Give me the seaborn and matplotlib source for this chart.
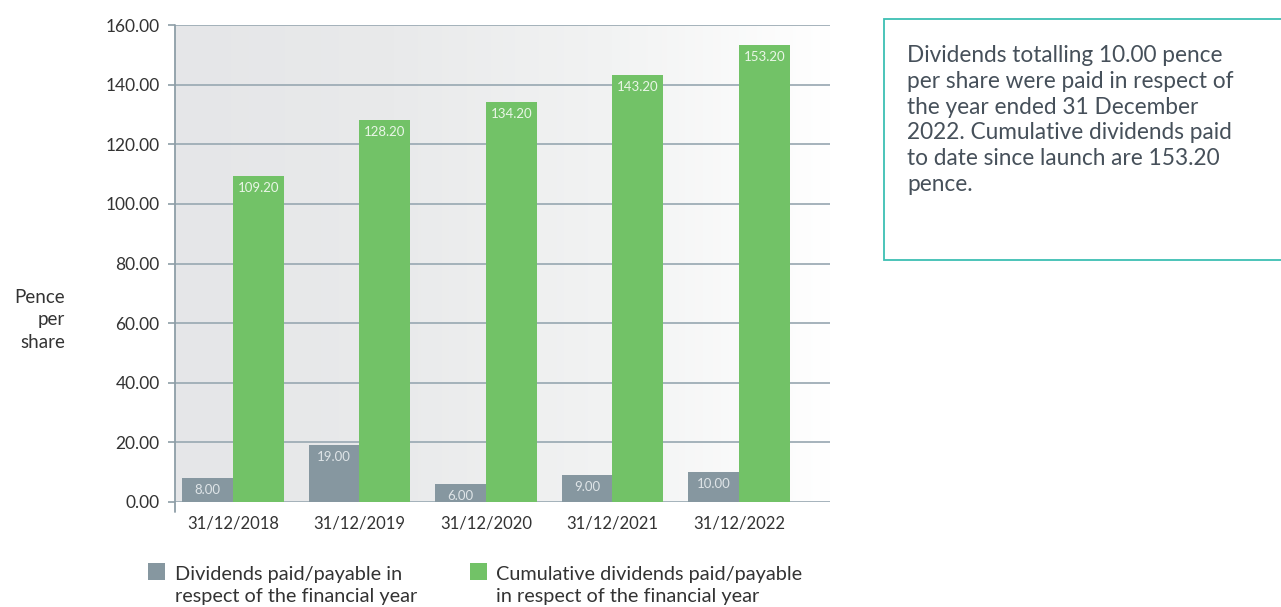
import numpy as np
import pandas as pd
import matplotlib
matplotlib.use("Agg")
import matplotlib.pyplot as plt
from matplotlib.patches import Rectangle
from matplotlib.colors import LinearSegmentedColormap
import seaborn as sns

# ---- data ----
categories = ["31/12/2018", "31/12/2019", "31/12/2020", "31/12/2021", "31/12/2022"]
annual_dividends = [8.00, 19.00, 6.00, 9.00, 10.00]
cumulative_dividends = [109.20, 128.20, 134.20, 143.20, 153.20]
series_names = ["Dividends paid/payable in\nrespect of the financial year",
                "Cumulative dividends paid/payable\nin respect of the financial year"]
y_ticks = [0, 20, 40, 60, 80, 100, 120, 140, 160]
y_label = "Pence\nper\nshare"
note_text = ("Dividends totalling 10.00 pence\nper share were paid in respect of\n"
             "the year ended 31 December\n2022. Cumulative dividends paid\n"
             "to date since launch are 153.20\npence.")

colors = {series_names[0]: "#8697a0", series_names[1]: "#72c267"}

df = pd.DataFrame({
    "date": categories * 2,
    "value": annual_dividends + cumulative_dividends,
    "series": [series_names[0]] * len(categories) + [series_names[1]] * len(categories),
})

sns.set_style("white")
plt.rcParams["font.family"] = ["Lato", "DejaVu Sans"]

fig = plt.figure(figsize=(12.81, 6.07), dpi=100)
ax = fig.add_axes([175 / 1281, 1 - 502 / 607, (830 - 175) / 1281, (502 - 25) / 607])

# gradient background
grad = np.linspace(0, 1, 256).reshape(1, -1)
cmap = LinearSegmentedColormap.from_list("bg", ["#e5e6e8", "#e9eaeb", "#f2f3f3", "#ffffff"])
ax.imshow(grad, aspect="auto", cmap=cmap, extent=[0, 1, 0, 1], transform=ax.transAxes, zorder=0)

sns.barplot(data=df, x="date", y="value", hue="series", palette=colors,
            width=0.8, gap=0, saturation=1, ax=ax, zorder=3, legend=False, linewidth=0)

ax.set_xlim(-0.458, 4.72)
ax.set_ylim(0, 160)
ax.set_yticks(y_ticks)
ax.set_yticklabels([f"{v:.2f}" for v in y_ticks])
ax.set_xlabel("")
ax.set_ylabel("")
ax.grid(axis="y", color="#9eadb6", linewidth=1.3, zorder=1)
ax.grid(axis="x", visible=False)
ax.set_axisbelow(True)
for s in ["top", "right", "bottom", "left"]:
    ax.spines[s].set_visible(False)
ax.plot([0, 0], [-0.02, 1], transform=ax.transAxes, color="#8e9ea7", lw=1.3, clip_on=False, zorder=4)
ax.tick_params(axis="y", length=5, width=1.2, color="#8e9ea7", pad=6, labelsize=12.5, labelcolor="#333333", left=True)
ax.tick_params(axis="x", length=0, pad=10, labelsize=12, labelcolor="#333333")

# value labels
all_vals = [annual_dividends, cumulative_dividends]
label_cols = ["#dfe5e8", "#eaf6e7"]
for cont, vals, lc in zip(ax.containers, all_vals, label_cols):
    for p, v in zip(cont.patches, vals):
        ax.annotate(f"{v:.2f}", (p.get_x() + p.get_width() / 2, p.get_height()),
                    xytext=(0, -12), textcoords="offset pixels", ha="center", va="center",
                    fontsize=9.5, color=lc, zorder=5)

# y label
fig.text(65 / 1281, 1 - 320 / 607, y_label, ha="right", va="center", multialignment="right",
         fontsize=13.5, color="#333333", linespacing=1.38)

# legend (manual, handle aligned with first text line)
W, H = 1281, 607
for name, hx, tx in zip(series_names, [148, 470], [175, 496]):
    fig.patches.append(Rectangle((hx / W, 1 - 580 / H), 17 / W, 17 / H, transform=fig.transFigure,
                                 facecolor=colors[name], edgecolor="none"))
    fig.text(tx / W, 1 - 566 / H, name, ha="left", va="top", fontsize=14.3,
             color="#333333", linespacing=1.36)

# note box
fig.patches.append(Rectangle((884 / W, 1 - 260 / H), 0.5, (260 - 19) / H,
                             transform=fig.transFigure, facecolor="white",
                             edgecolor="#3dbfb3", linewidth=1.3))
fig.text(907 / W, 1 - 45 / H, note_text, ha="left", va="top", fontsize=16.3,
         color="#46505a", linespacing=1.28)

fig.savefig("out.png", dpi=100)
